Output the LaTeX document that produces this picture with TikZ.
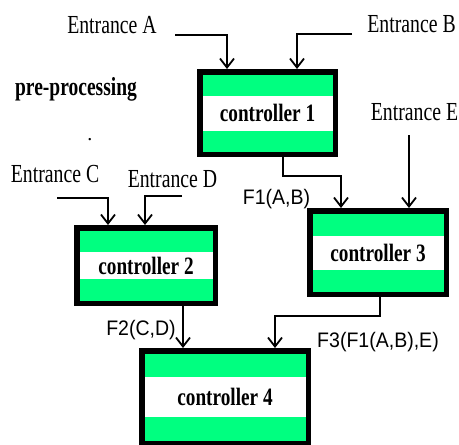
\documentclass[tikz,border=0pt]{standalone}
\usepackage{graphicx}
\usepackage{fontspec}
\usetikzlibrary{arrows.meta}
\newfontfamily\tmsfont{Liberation Serif}
\newfontfamily\arlfont{Liberation Sans}
\definecolor{cgreen}{RGB}{0,255,128}
\newcommand\ctrltext[1]{\scalebox{0.77}[1]{\fontsize{25}{25}\selectfont\tmsfont\bfseries #1}}
\newcommand\entrtext[1]{\scalebox{0.76}[1]{\fontsize{26}{26}\selectfont\tmsfont #1}}
\newcommand\ftext[1]{\scalebox{0.93}[1]{\fontsize{21}{21}\selectfont\arlfont #1}}
\tikzset{
  ctrl/.style={draw=black, line width=5.5pt, fill=cgreen, rectangle, inner sep=0pt},
  band/.style={path picture={\fill[white] ([yshift=-#1/2]path picture bounding box.west) rectangle ([yshift=#1/2]path picture bounding box.east);}},
  conn/.style={line width=1.8pt, -{Straight Barb[length=9pt,width=14pt]}},
  lbl/.style={anchor=base, inner sep=0pt}
}
\begin{document}
\begin{tikzpicture}[x=1pt,y=-1pt]
\useasboundingbox (0,0) rectangle (459,445);
% controllers
\node[ctrl, band=35, minimum width=135.5pt, minimum height=82.5pt] (c1) at (267.5,113) {\ctrltext{controller 1}};
\node[ctrl, band=27, minimum width=138.5pt, minimum height=75.5pt] (c2) at (146,265.5) {\ctrltext{controller 2}};
\node[ctrl, band=34, minimum width=136.5pt, minimum height=83.5pt] (c3) at (378,252.5) {\ctrltext{controller 3}};
\node[ctrl, band=40, minimum width=166.5pt, minimum height=92.5pt] (c4) at (225,397) {\ctrltext{controller 4}};
% labels
\node[lbl] (la) at (112,33) {\entrtext{Entrance A}};
\node[lbl] (lb) at (411.5,32) {\entrtext{Entrance B}};
\node[lbl] (le) at (414.5,120) {\entrtext{Entrance E}};
\node[lbl] (lc) at (55,182) {\entrtext{Entrance C}};
\node[lbl] (ld) at (172.5,187) {\entrtext{Entrance D}};
\node[lbl] (pre) at (76,95) {\scalebox{0.75}[1]{\fontsize{26}{26}\selectfont\tmsfont\bfseries pre-processing}};
\node[lbl] (dot) at (90,140) {\fontsize{20}{20}\selectfont\tmsfont .};
\node[lbl] (f1) at (276.5,204) {\ftext{F1(A,B)}};
\node[lbl] (f2) at (141,335) {\ftext{F2(C,D)}};
\node[lbl] (f3) at (378,347) {\ftext{F3(F1(A,B),E)}};
% free ends and bends
\coordinate (ea) at (175,35);
\coordinate (eb) at (352,34);
\coordinate (ee) at (409,135);
\coordinate (ec) at (57,198);
\coordinate (ed) at (182,196);
\coordinate (k13) at (341,176);
\coordinate (k34) at (275,316);
% connectors
\draw[conn] (ea) -| ([xshift=-40.5pt]c1.north);
\draw[conn] (eb) -| ([xshift=29.5pt]c1.north);
\draw[conn] (ee) -- ([xshift=31pt]c3.north);
\draw[conn] (ec) -| ([xshift=-38pt]c2.north);
\draw[conn] (ed) -| ([xshift=-1pt]c2.north);
\draw[conn] ([xshift=15.5pt]c1.south) |- (k13) -- ([xshift=-37pt]c3.north);
\draw[conn] ([xshift=37pt]c2.south) -- ([xshift=-42pt]c4.north);
\draw[conn] ([xshift=2pt]c3.south) |- (k34) -- ([xshift=50pt]c4.north);
\end{tikzpicture}
\end{document}
